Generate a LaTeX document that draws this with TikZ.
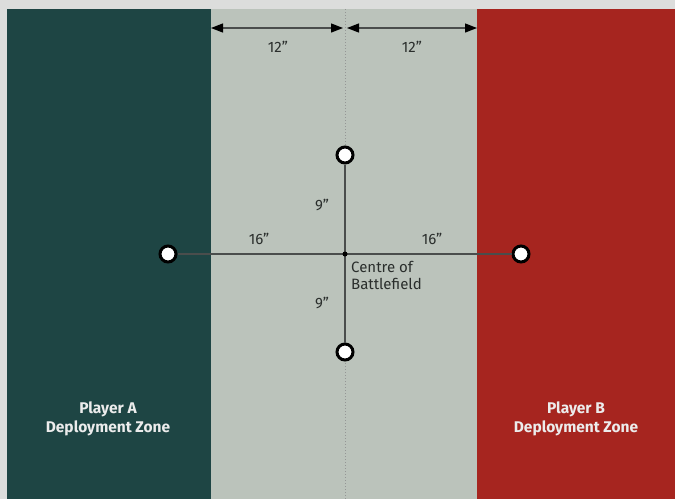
\documentclass[tikz,border=0pt]{standalone}
\usepackage{fontspec}
\setmainfont{Fira Sans}
\usetikzlibrary{arrows.meta,positioning}
\definecolor{frame}{HTML}{DCDDDC}
\definecolor{zoneA}{HTML}{1E4544}
\definecolor{noman}{HTML}{BBC3BB}
\definecolor{zoneB}{HTML}{A6251F}
\definecolor{ink}{HTML}{2A2E2C}
\newcommand{\inch}{\char"22\relax}
\tikzset{
  objective/.style={circle,draw=black,line width=3pt,fill=white,minimum size=16pt,inner sep=0pt},
  measure/.style={ink!85,line width=1.3pt},
  edgearrow/.style={measure,{Triangle[length=12pt,width=9pt,black]}-{Triangle[length=12pt,width=9pt,black]}},
  dist/.style={font=\fontsize{15}{17}\selectfont,text=ink},
  zonelabel/.style={font=\fontsize{15.5}{19}\selectfont\bfseries,text=white!85!gray,align=center}
}

\begin{document}
\begin{tikzpicture}[x=1pt,y=-1pt]
\useasboundingbox (0,0) rectangle (675,499);
\fill[frame] (0,0) rectangle (675,499);
\fill[zoneA] (7,9) rectangle (211,499);\fill[noman] (211,9) rectangle (477,499);\fill[zoneB] (477,9) rectangle (675,499);
\draw[ink!50,dash pattern=on 1pt off 2pt,line width=0.6pt] (345,9)--(345,499);
% measuring points
\coordinate (centre) at (345,254);
\node[objective] (objN) at (345,155){};\node[objective] (objS) at (345,352){};
\node[objective] (objA) at (168,254){};\node[objective] (objB) at (521,254){};
\draw[measure] (objA)--(objB);\draw[measure] (objN)--(objS);
\fill[black] (centre) circle (2.5pt);
% table edge distances
\coordinate (edgeA) at (211,28);\coordinate (mid) at (345,28);\coordinate (edgeB) at (477,28);
\draw[edgearrow] (edgeA)--([xshift=-2pt]mid);
\draw[edgearrow] ([xshift=2pt]mid)--(edgeB);
\node[dist] at (278,47){12\inch};\node[dist] at (412,47){12\inch};
\node[dist] at (322,205){9\inch};\node[dist] at (322,303){9\inch};
\node[dist] at (259,239){16\inch};\node[dist] at (432,239){16\inch};
\node[dist,anchor=north west,align=left,inner sep=0pt] at ([xshift=6pt,yshift=-7pt]centre){Centre of\\Battlefield};
\node[zonelabel] at (108,419){Player A\\Deployment Zone};
\node[zonelabel] at (576,419){Player B\\Deployment Zone};
\end{tikzpicture}
\end{document}
